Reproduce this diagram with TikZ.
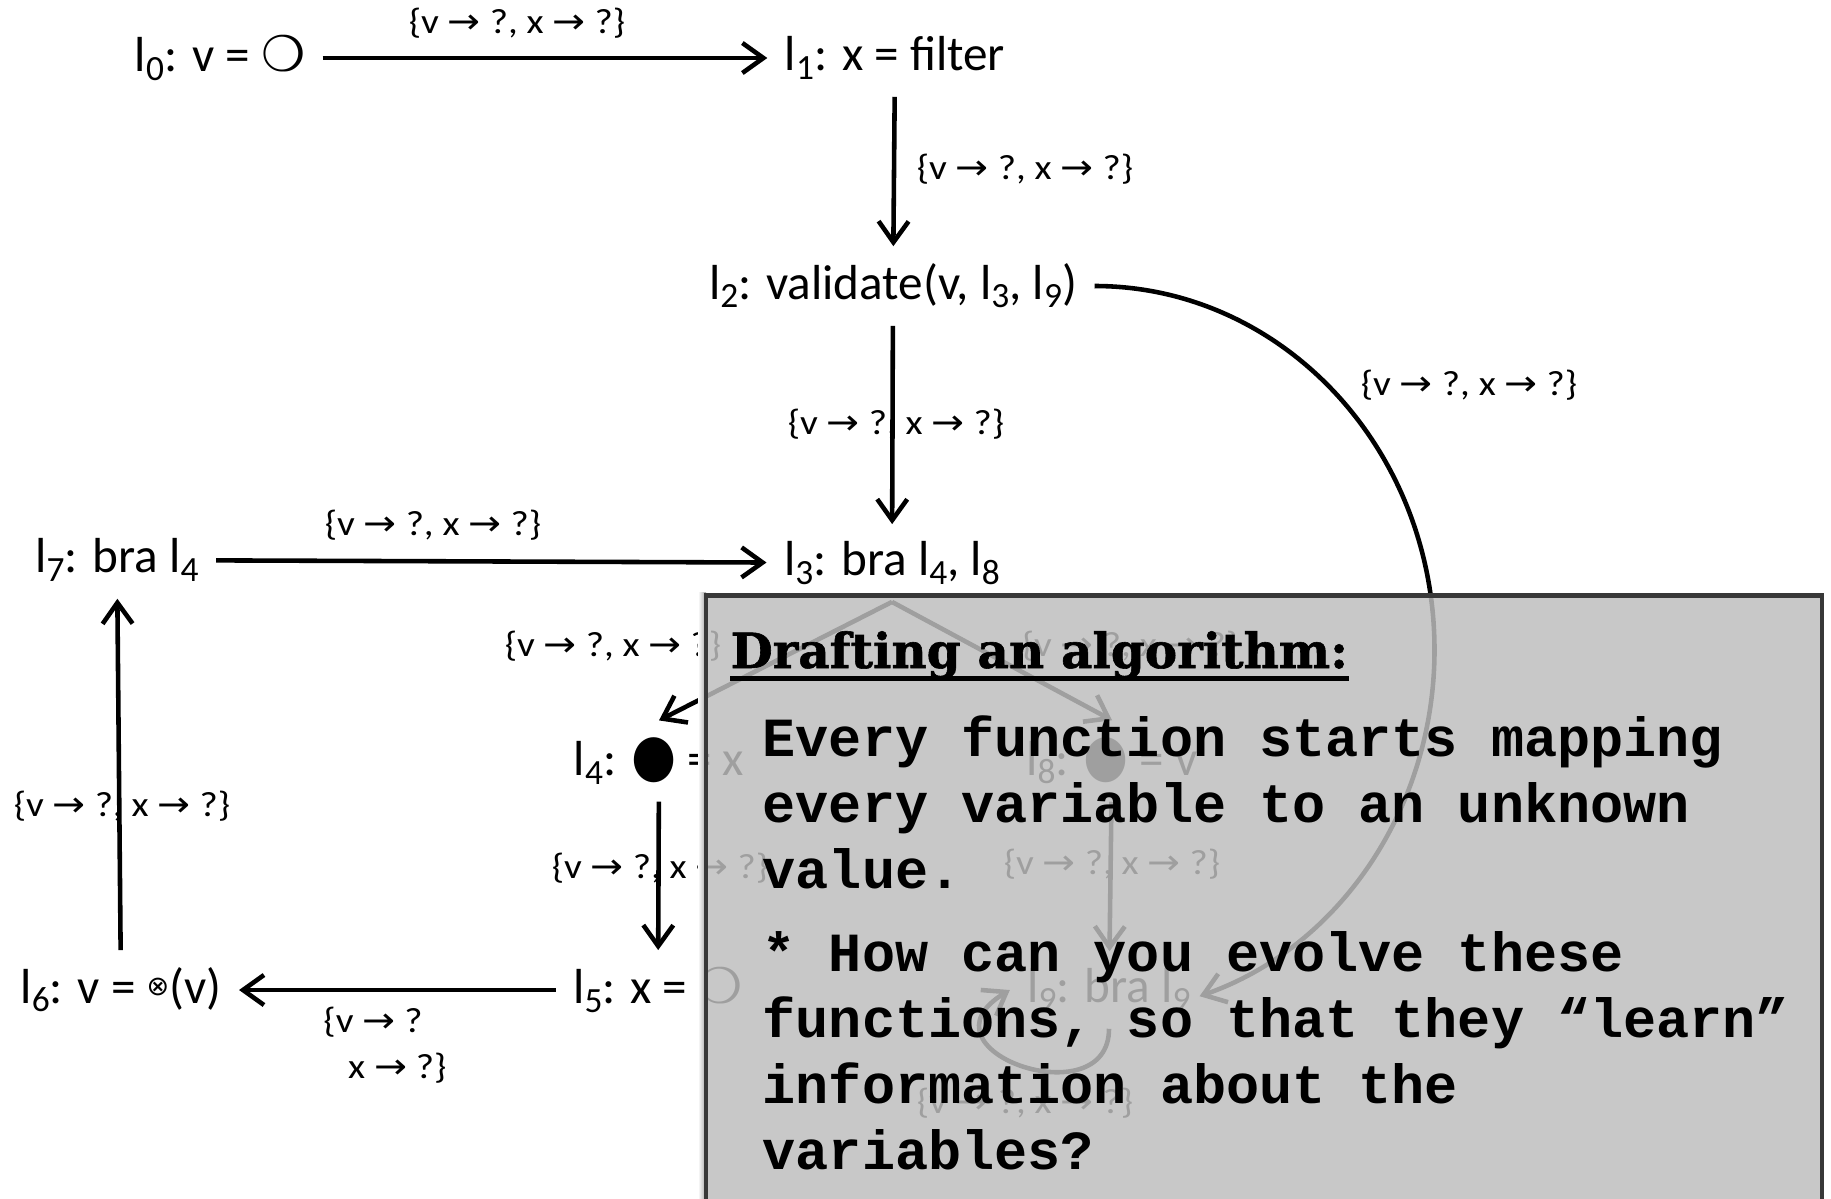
\documentclass[tikz,border=0pt]{standalone}
\usepackage{fontspec}
\usepackage{graphicx}
\setmainfont{Carlito}
\newfontfamily\symfont{DejaVu Sans}
\newfontfamily\notefont{Liberation Mono}
\newfontfamily\headfont{DejaVu Serif}[BoldFeatures={FakeBold=1.2}]
\usetikzlibrary{arrows.meta}
\definecolor{overlaygray}{gray}{0.745}
\definecolor{edgegray}{gray}{0.22}
\newcommand{\lname}[1]{l\raisebox{-0.35ex}{\scalebox{0.72}{#1}}}
\newcommand{\mapsarrow}{{\symfont →}}
\newcommand{\unknownmap}{\scalebox{1.12}[1]{\{v \mapsarrow\ ?, x \mapsarrow\ ?\}}}
\newcommand{\emptyval}{{\symfont ❍}}
\newcommand{\fullval}{{\symfont\scalebox{1.05}[1.2]{●}}}
\newcommand{\meetval}{{\symfont\raisebox{0.3ex}{\scalebox{0.55}{⊗}}}}
\begin{document}
\begin{tikzpicture}[
  stmt/.style={font=\fontsize{14}{17}\selectfont, inner sep=3pt, outer sep=2pt},
  lbl/.style={font=\fontsize{10}{13}\selectfont, inner sep=1pt},
  flow/.style={line width=1.3pt, -{Straight Barb[length=2.1mm,width=3mm]}}
]
\useasboundingbox (0,0) rectangle (18.31,-11.98);
% program points
\node[stmt] at (2.20,-0.58) (l0) {\lname{0}: v = \emptyval};
\node[stmt] at (8.95,-0.58) (l1) {\lname{1}: x = filter};
\node[stmt] at (8.93,-2.86) (l2) {\lname{2}: validate(v, \lname{3}, \lname{9})};
\node[stmt] at (8.92,-5.63) (l3) {\lname{3}: bra \lname{4}, \lname{8}};
\node[stmt] at (1.17,-5.60) (l7) {\lname{7}: bra \lname{4}};
\node[stmt] at (6.59,-7.61) (l4) {\lname{4}: \fullval{} = x};
\node[stmt] at (11.12,-7.61) (l8) {\lname{8}: \fullval{} = v};
\node[stmt] at (6.58,-9.90) (l5) {\lname{5}: x = \emptyval};
\node[stmt] at (11.09,-9.90) (l9) {\lname{9}: bra \lname{9}};
\node[stmt] at (1.21,-9.90) (l6) {\lname{6}: v = \meetval(v)};
% flow edges
\draw[flow] (l0) -- (l1);
\draw[flow] (l1) -- (l2);
\draw[flow] (l2) -- (l3);
\draw[flow] (l2.east) arc[start angle=90, end angle=-72, x radius=3.40, y radius=3.64];
\draw[flow] (l7) -- (l3);
\draw[flow] (l3.south) -- (l4.north);
\draw[flow] (l3.south) -- (l8.north);
\draw[flow] (l4) -- (l5);
\draw[flow] (l8) -- (l9);
\draw[flow] (l5) -- (l6);
\draw[flow] (l6) -- (l7);
\draw[flow] (l9.south) .. controls +(0,-0.9) and +(-1.0,-0.6) .. (l9.west);
% abstract states
\node[lbl] at (5.17,-0.23) (m01) {\unknownmap};
\node[lbl] at (10.25,-1.69) (m12) {\unknownmap};
\node[lbl] at (8.96,-4.24) (m23) {\unknownmap};
\node[lbl] at (14.69,-3.85) (m29) {\unknownmap};
\node[lbl] at (4.33,-5.25) (m73) {\unknownmap};
\node[lbl] at (6.13,-6.46) (m34) {\unknownmap};
\node[lbl] at (11.30,-6.46) (m38) {\unknownmap};
\node[lbl] at (6.60,-8.68) (m45) {\unknownmap};
\node[lbl] at (11.12,-8.64) (m89) {\unknownmap};
\node[lbl, align=left] at (3.85,-10.45) (m56) {\scalebox{1.12}[1]{\{v \mapsarrow\ ?}\\\hspace{0.7em}\scalebox{1.12}[1]{x \mapsarrow\ ?\}}};
\node[lbl] at (1.22,-8.06) (m67) {\unknownmap};
\node[lbl] at (10.25,-11.03) (m99) {\unknownmap};
% note box
\shade[left color=white, right color=gray!70] (6.98,-5.92) rectangle (7.06,-12.3);
\fill[overlaygray, fill opacity=0.84] (7.06,-5.955) rectangle (18.22,-12.3);
\draw[edgegray, line width=1.2pt] (7.06,-12.3) -- (7.06,-5.955) -- (18.22,-5.955) -- (18.22,-12.3);
\node[anchor=base west, inner sep=0pt, font=\headfont\bfseries\fontsize{13.8}{16}\selectfont] at (7.30,-6.68) (title) {Drafting an algorithm:};
\draw[line width=1.2pt] ([yshift=-3pt]title.base west) -- ([yshift=-3pt]title.base east);
\node[anchor=north west, inner sep=0pt, align=left, font=\notefont\bfseries\fontsize{15.7}{18.8}\selectfont] at (7.62,-7.15) (body) {Every function starts mapping\\every variable to an unknown\\value.\\[4.8pt]* How can you evolve these\\functions, so that they “learn”\\information about the\\variables?};
\end{tikzpicture}
\end{document}
